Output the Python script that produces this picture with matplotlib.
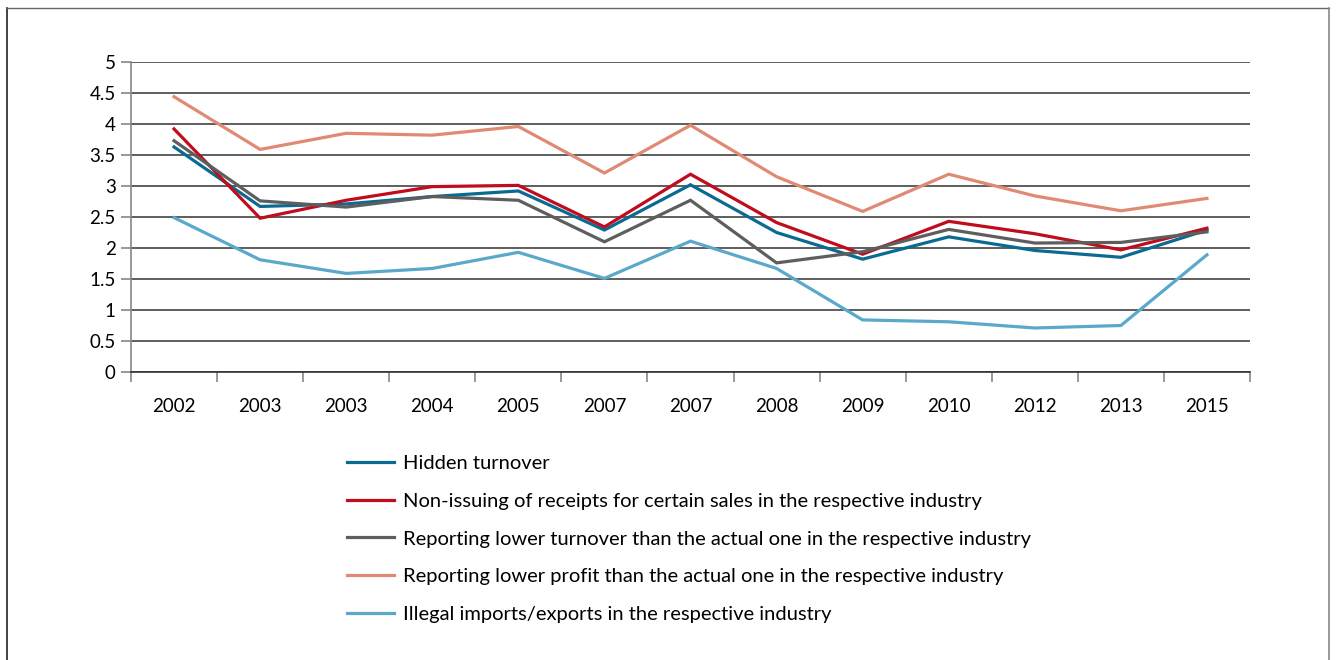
import numpy as np
import matplotlib.pyplot as plt
from matplotlib.lines import Line2D

years = ['2002', '2003', '2003', '2004', '2005', '2007', '2007',
         '2008', '2009', '2010', '2012', '2013', '2015']

hidden = [3.63, 2.67, 2.71, 2.83, 2.92, 2.29, 3.02, 2.25, 1.82, 2.18, 1.96, 1.85, 2.29]
receipts = [3.92, 2.48, 2.77, 2.99, 3.01, 2.34, 3.19, 2.41, 1.90, 2.43, 2.23, 1.97, 2.32]
lower_turnover = [3.73, 2.76, 2.66, 2.83, 2.77, 2.10, 2.77, 1.76, 1.94, 2.30, 2.08, 2.09, 2.26]
lower_profit = [4.44, 3.59, 3.85, 3.82, 3.96, 3.21, 3.98, 3.15, 2.59, 3.19, 2.84, 2.60, 2.80]
illegal = [2.49, 1.81, 1.59, 1.67, 1.93, 1.51, 2.11, 1.67, 0.84, 0.81, 0.71, 0.75, 1.89]

labels = ['Hidden turnover',
          'Non-issuing of receipts for certain sales in the respective industry',
          'Reporting lower turnover than the actual one in the respective industry',
          'Reporting lower profit than the actual one in the respective industry',
          'Illegal imports/exports in the respective industry']
colors = ['#0a6a91', '#c00d1e', '#5e5e5e', '#e08a74', '#5ba9ca']

plt.rcParams['font.family'] = ['Lato', 'DejaVu Sans']

fig = plt.figure(figsize=(13.36, 6.6), dpi=100)
ax = fig.add_axes([131/1336, 1-372/660, 1119/1336, 310/660])

x = np.arange(len(years))
series = [hidden, receipts, lower_turnover, lower_profit, illegal]
for s, c, l in zip(series, colors, labels):
    ax.plot(x, s, color=c, lw=2.3, label=l, solid_joinstyle='miter', zorder=3)

ax.set_xlim(-0.5, len(years) - 0.5)
ax.set_ylim(0, 5)
ax.set_yticks(np.arange(0, 5.01, 0.5))
ax.set_yticklabels(['0', '0.5', '1', '1.5', '2', '2.5', '3', '3.5', '4', '4.5', '5'])
ax.yaxis.grid(True, color='#333333', lw=1.1)
ax.set_axisbelow(True)

ax.set_xticks(x)
ax.set_xticklabels(years)
ax.set_xticks(np.arange(-0.5, len(years)), minor=True)
ax.tick_params(axis='x', which='major', length=0, pad=19, labelsize=13.5)
ax.tick_params(axis='x', which='minor', length=7, color='#888888', width=1.2)
ax.tick_params(axis='y', length=7, color='#888888', width=1.2, pad=4, labelsize=13.5)

for sp in ['top', 'right']:
    ax.spines[sp].set_visible(False)
ax.spines['left'].set_color('#888888')
ax.spines['bottom'].set_color('#333333')
ax.spines['left'].set_linewidth(1.2)
ax.spines['bottom'].set_linewidth(1.2)

handles, labs = ax.get_legend_handles_labels()
fig.legend(handles, labs, loc='upper left', bbox_to_anchor=(329/1336, 1-437/660),
           frameon=False, fontsize=14.5, handlelength=2.33, handletextpad=0.45,
           labelspacing=1.02)

# frame around the figure (open at the bottom)
fig.add_artist(Line2D([7/1336, 7/1336], [0, 1-8/660], color='#222222', lw=1.2))
fig.add_artist(Line2D([7/1336, 1329/1336], [1-8/660, 1-8/660], color='#666666', lw=1.0))
fig.add_artist(Line2D([1329/1336, 1329/1336], [0, 1-8/660], color='#888888', lw=1.2))

fig.savefig('out.png', dpi=100)
